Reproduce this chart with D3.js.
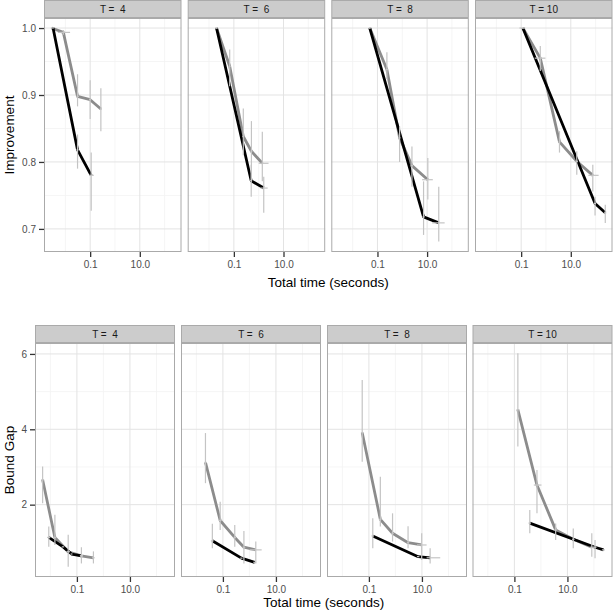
<!DOCTYPE html>
<html>
<head>
<meta charset="utf-8">
<script src="https://cdn.jsdelivr.net/npm/d3@7"></script>
<style>
  body { margin: 0; background: #fff; }
  svg { font-family: "Liberation Sans", Arial, sans-serif; }
</style>
</head>
<body>
<svg id="chart" width="615" height="611"></svg>
<script>
// facets
const stripLabels = ["T =  4", "T =  6", "T =  8", "T = 10"];
const xTickValues = [0.1, 10];
const xTickLabels = ["0.1", "10.0"];
const improvementTicks = [0.7, 0.8, 0.9, 1.0];
const boundGapTicks = [2, 4, 6];

// each point: [time, value, timeLo, timeHi, valueLo, valueHi]
const improvementBlack = [
  [[0.0032, 1.0, 0.003, 0.0034, 1.0, 1.0], [0.031, 0.818, 0.028, 0.034, 0.79, 0.841], [0.11, 0.78, 0.09, 0.14, 0.727, 0.814]],
  [[0.02, 1.0, 0.018, 0.022, 1.0, 1.0], [0.5, 0.772, 0.45, 0.55, 0.748, 0.796], [1.6, 0.761, 1.17, 2.3, 0.724, 0.778]],
  [[0.049, 1.0, 0.045, 0.053, 1.0, 1.0], [7.2, 0.718, 6.5, 8.0, 0.691, 0.771], [29.5, 0.709, 16, 51, 0.681, 0.763]],
  [[0.117, 1.0, 0.11, 0.125, 1.0, 1.0], [95, 0.738, 85, 105, 0.72, 0.748], [245, 0.724, 220, 270, 0.709, 0.736]]
];
const improvementGray = [
  [[0.0028, 1.0, 0.0026, 0.003, 1.0, 1.0], [0.0083, 0.9935, 0.005, 0.0155, 0.99, 0.997], [0.031, 0.898, 0.028, 0.035, 0.883, 0.931],
   [0.1, 0.893, 0.09, 0.11, 0.864, 0.922], [0.27, 0.879, 0.24, 0.3, 0.846, 0.91]],
  [[0.02, 1.0, 0.018, 0.022, 1.0, 1.0], [0.068, 0.943, 0.062, 0.075, 0.913, 0.968], [0.24, 0.838, 0.22, 0.26, 0.81, 0.88],
   [0.51, 0.816, 0.46, 0.56, 0.771, 0.861], [1.4, 0.798, 1.0, 2.5, 0.771, 0.845]],
  [[0.049, 1.0, 0.045, 0.053, 1.0, 1.0], [0.24, 0.938, 0.22, 0.26, 0.924, 0.964], [0.78, 0.836, 0.7, 0.85, 0.8, 0.853],
   [2.45, 0.7945, 2.2, 2.7, 0.763, 0.823], [10.7, 0.7735, 6.3, 17, 0.744, 0.806]],
  [[0.117, 1.0, 0.085, 0.145, 1.0, 1.0], [0.59, 0.955, 0.35, 0.95, 0.936, 0.973], [3.5, 0.83, 3.2, 3.8, 0.814, 0.846],
   [17.4, 0.801, 15.5, 19.5, 0.781, 0.816], [77, 0.78, 51, 132, 0.756, 0.796]]
];
const boundGapBlack = [
  [[0.0087, 1.13, 0.0075, 0.01, 0.88, 1.42], [0.03, 0.88, 0.027, 0.033, 0.88, 0.88], [0.063, 0.69, 0.058, 0.068, 0.69, 0.69], [0.148, 0.64, 0.13, 0.17, 0.64, 0.64]],
  [[0.04, 1.04, 0.035, 0.045, 0.84, 1.49], [0.5, 0.58, 0.45, 0.55, 0.58, 0.58], [1.58, 0.47, 1.4, 1.8, 0.47, 0.47]],
  [[0.14, 1.17, 0.125, 0.155, 0.84, 1.64], [7.2, 0.62, 6.5, 8.0, 0.62, 0.62], [20.4, 0.59, 15, 49, 0.44, 0.84]],
  [[0.38, 1.51, 0.34, 0.42, 1.24, 1.86], [110, 0.87, 95, 125, 0.58, 1.06], [230, 0.8, 200, 260, 0.8, 0.8]]
];
const boundGapGray = [
  [[0.0051, 2.66, 0.0045, 0.0058, 2.04, 3.01], [0.0148, 1.13, 0.013, 0.017, 0.93, 1.73], [0.047, 0.75, 0.04, 0.055, 0.35, 1.2],
   [0.148, 0.64, 0.13, 0.17, 0.44, 0.87], [0.42, 0.59, 0.37, 0.47, 0.44, 0.76]],
  [[0.022, 3.12, 0.02, 0.025, 2.57, 3.9], [0.079, 1.58, 0.07, 0.09, 1.33, 2.08], [0.28, 1.13, 0.25, 0.31, 0.88, 1.46],
   [0.62, 0.87, 0.55, 0.7, 0.44, 1.3], [1.74, 0.8, 1.03, 2.9, 0.44, 1.02]],
  [[0.056, 3.91, 0.05, 0.063, 3.14, 5.31], [0.27, 1.61, 0.24, 0.3, 1.42, 2.74], [0.78, 1.24, 0.7, 0.87, 1.02, 1.77],
   [3.0, 0.99, 2.7, 3.3, 0.84, 1.43], [9.8, 0.93, 6.5, 15, 0.53, 1.24]],
  [[0.135, 4.52, 0.12, 0.15, 3.54, 6.02], [0.71, 2.52, 0.54, 1.05, 1.77, 2.92], [3.6, 1.33, 3.2, 4.0, 1.06, 1.5],
   [16.6, 1.08, 15, 18.5, 0.84, 1.37], [83, 0.87, 70, 100, 0.62, 1.24]]
];

const svg = d3.select("#chart");

function drawRow(opt) {
  const x = d3.scaleLog().domain(opt.xDomain).range([0, opt.width]);
  const y = d3.scaleLinear().domain(opt.yDomain).range([opt.plotBottom - opt.plotTop, 0]);
  const h = opt.plotBottom - opt.plotTop;
  const line = d3.line().x(d => x(d[0])).y(d => y(d[1]));

  // minor grid positions (midway in transformed space)
  const lx = opt.xDomain.map(Math.log10);
  const xMinor = [-2, 0, 2].filter(v => v > lx[0] && v < lx[1]).map(v => Math.pow(10, v));
  const yMinor = [];
  for (let i = 0; i < opt.yTicks.length - 1; i++) yMinor.push((opt.yTicks[i] + opt.yTicks[i + 1]) / 2);
  yMinor.push(opt.yTicks[opt.yTicks.length - 1] + (opt.yTicks[1] - opt.yTicks[0]) / 2);

  stripLabels.forEach((lab, i) => {
    const left = opt.lefts[i];
    // strip
    const strip = svg.append("g").attr("transform", "translate(" + left + "," + opt.stripTop + ")");
    strip.append("rect")
      .attr("x", 0.5).attr("y", 0.5)
      .attr("width", opt.width - 1).attr("height", opt.plotTop - opt.stripTop - 1)
      .attr("fill", "#cccccc").attr("stroke", "#aaaaaa").attr("stroke-width", 1);
    strip.append("text")
      .attr("x", opt.width / 2).attr("y", (opt.plotTop - opt.stripTop) / 2 + 3.8)
      .attr("text-anchor", "middle").attr("font-size", 10).attr("fill", "#1a1a1a")
      .attr("xml:space", "preserve").style("white-space", "pre")
      .text(lab);

    const g = svg.append("g").attr("transform", "translate(" + left + "," + opt.plotTop + ")");
    g.append("rect").attr("width", opt.width).attr("height", h).attr("fill", "#fff");

    // grid
    g.selectAll(".xminor").data(xMinor).enter().append("line")
      .attr("x1", d => x(d)).attr("x2", d => x(d)).attr("y1", 0).attr("y2", h)
      .attr("stroke", "#f3f3f3").attr("stroke-width", 0.8);
    g.selectAll(".yminor").data(yMinor.filter(v => v > opt.yDomain[0] && v < opt.yDomain[1])).enter().append("line")
      .attr("y1", d => y(d)).attr("y2", d => y(d)).attr("x1", 0).attr("x2", opt.width)
      .attr("stroke", "#f3f3f3").attr("stroke-width", 0.8);
    g.selectAll(".xmajor").data(xTickValues).enter().append("line")
      .attr("x1", d => x(d)).attr("x2", d => x(d)).attr("y1", 0).attr("y2", h)
      .attr("stroke", "#e3e3e3").attr("stroke-width", 1);
    g.selectAll(".ymajor").data(opt.yTicks).enter().append("line")
      .attr("y1", d => y(d)).attr("y2", d => y(d)).attr("x1", 0).attr("x2", opt.width)
      .attr("stroke", "#e3e3e3").attr("stroke-width", 1);

    // lines
    const series = [
      { data: opt.gray[i], color: "#8c8c8c" },
      { data: opt.black[i], color: "#000000" }
    ];
    series.forEach(s => {
      g.append("path").datum(s.data)
        .attr("d", line).attr("fill", "none")
        .attr("stroke", s.color).attr("stroke-width", 2.8)
        .attr("stroke-linejoin", "round");
    });
    // error bars on top
    series.forEach(s => {
      const eb = g.append("g").attr("stroke", "#c4c4c4").attr("stroke-width", 1.2);
      eb.selectAll(".v").data(s.data.filter(d => d[4] !== d[5])).enter().append("line")
        .attr("x1", d => x(d[0])).attr("x2", d => x(d[0]))
        .attr("y1", d => y(d[4])).attr("y2", d => y(d[5]));
      eb.selectAll(".h").data(s.data).enter().append("line")
        .attr("x1", d => x(d[2])).attr("x2", d => x(d[3]))
        .attr("y1", d => y(d[1])).attr("y2", d => y(d[1]));
    });

    g.append("rect").attr("x", 0.5).attr("y", 0.5)
      .attr("width", opt.width - 1).attr("height", h - 1)
      .attr("fill", "none").attr("stroke", "#aaaaaa").attr("stroke-width", 1);

    // x axis
    const xa = g.append("g").attr("transform", "translate(0," + h + ")")
      .call(d3.axisBottom(x).tickValues(xTickValues).tickFormat((d, k) => xTickLabels[k]).tickSize(5).tickPadding(4));
    xa.select(".domain").remove();
    xa.selectAll(".tick line").attr("stroke", "#333").attr("stroke-width", 1.3);
    xa.selectAll(".tick text").attr("font-size", 10).attr("fill", "#4d4d4d")
      .attr("font-family", "Liberation Sans, Arial, sans-serif");

    if (i === 0) {
      const ya = g.append("g")
        .call(d3.axisLeft(y).tickValues(opt.yTicks).tickFormat(opt.yFormat).tickSize(5).tickPadding(3));
      ya.select(".domain").remove();
      ya.selectAll(".tick line").attr("stroke", "#333").attr("stroke-width", 1.3);
      ya.selectAll(".tick text").attr("font-size", 10).attr("fill", "#4d4d4d")
        .attr("font-family", "Liberation Sans, Arial, sans-serif");
    }
  });

  svg.append("text")
    .attr("transform", "translate(" + opt.yTitleX + "," + ((opt.plotTop + opt.plotBottom) / 2) + ") rotate(-90)")
    .attr("text-anchor", "middle").attr("font-size", 13.5).attr("fill", "#000")
    .text(opt.yTitle);
  const lastRight = opt.lefts[3] + opt.width;
  svg.append("text")
    .attr("x", (opt.lefts[0] + lastRight) / 2).attr("y", opt.xTitleY)
    .attr("text-anchor", "middle").attr("font-size", 13.5).attr("fill", "#000")
    .text("Total time (seconds)");
}

drawRow({
  lefts: [44, 187.7, 331.3, 475], width: 137.5,
  stripTop: 0, plotTop: 18, plotBottom: 252,
  xDomain: [0.00138, 479], yDomain: [0.6655, 1.015],
  yTicks: improvementTicks, yFormat: d3.format(".1f"),
  black: improvementBlack, gray: improvementGray,
  yTitle: "Improvement", yTitleX: 14, xTitleY: 287
});

drawRow({
  lefts: [35, 181, 327, 472.5], width: 140,
  stripTop: 325, plotTop: 343, plotBottom: 577,
  xDomain: [0.00263, 501], yDomain: [0.08, 6.29],
  yTicks: boundGapTicks, yFormat: d3.format("d"),
  black: boundGapBlack, gray: boundGapGray,
  yTitle: "Bound Gap", yTitleX: 14, xTitleY: 607
});
</script>
</body>
</html>
